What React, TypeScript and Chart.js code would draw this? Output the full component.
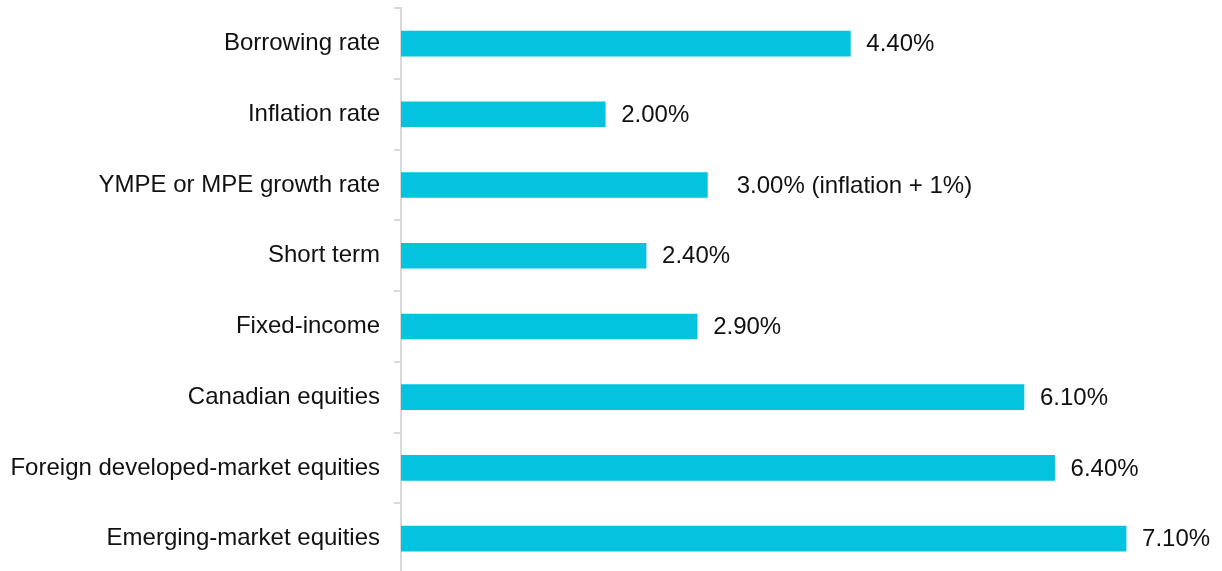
import React, { useEffect, useRef } from "react";
import { Chart, registerables } from "chart.js";

Chart.register(...registerables);

const categories = [
  "Borrowing rate",
  "Inflation rate",
  "YMPE or MPE growth rate",
  "Short term",
  "Fixed-income",
  "Canadian equities",
  "Foreign developed-market equities",
  "Emerging-market equities",
];
const values = [4.4, 2.0, 3.0, 2.4, 2.9, 6.1, 6.4, 7.1];
const valueLabels = ["4.40%", "2.00%", "  3.00% (inflation + 1%)", "2.40%", "2.90%", "6.10%", "6.40%", "7.10%"];

const FONT = "'Liberation Sans', Arial, sans-serif";

const dataLabelPlugin = {
  id: "dataLabels",
  afterDatasetsDraw(chart: any) {
    const ctx = chart.ctx;
    const meta = chart.getDatasetMeta(0);
    ctx.save();
    ctx.font = `24px ${FONT}`;
    ctx.fillStyle = "#111111";
    ctx.textAlign = "left";
    ctx.textBaseline = "middle";
    meta.data.forEach((bar: any, i: number) => {
      ctx.fillText(valueLabels[i], bar.x + 16, bar.y + 1);
    });
    ctx.restore();
  },
};

export default function App() {
  const ref = useRef<HTMLCanvasElement>(null);
  useEffect(() => {
    if (!ref.current) return;
    const chart = new Chart(ref.current, {
      type: "bar",
      data: {
        labels: categories,
        datasets: [
          {
            data: values,
            backgroundColor: "#03C3DF",
            borderWidth: 0,
            barThickness: 25,
          },
        ],
      },
      options: {
        indexAxis: "y",
        animation: false,
        responsive: false,
        maintainAspectRatio: false,
        layout: { padding: { top: 1, right: 4, bottom: 17, left: 0 } },
        plugins: { legend: { display: false }, tooltip: { enabled: false } },
        scales: {
          x: {
            display: false,
            min: 0,
            max: 8,
          },
          y: {
            afterFit(scale: any) {
              scale.width = 401;
            },
            border: { display: true, color: "#d9d9d9", width: 2 },
            grid: {
              display: true,
              drawOnChartArea: false,
              drawTicks: true,
              tickLength: 7,
              color: "#d9d9d9",
              lineWidth: 2,
              offset: true,
            },
            ticks: {
              padding: 14,
              color: "#111111",
              font: { family: FONT, size: 24, lineHeight: 0.1 },
            },
          },
        },
      },
      plugins: [dataLabelPlugin],
    });
    return () => chart.destroy();
  }, []);
  return (
    <div style={{ position: "absolute", left: 0, top: 0, width: 1222, height: 571, background: "#fff", overflow: "hidden" }}>
      <canvas ref={ref} width={1222} height={598} style={{ display: "block", marginTop: -7 }} />
    </div>
  );
}
